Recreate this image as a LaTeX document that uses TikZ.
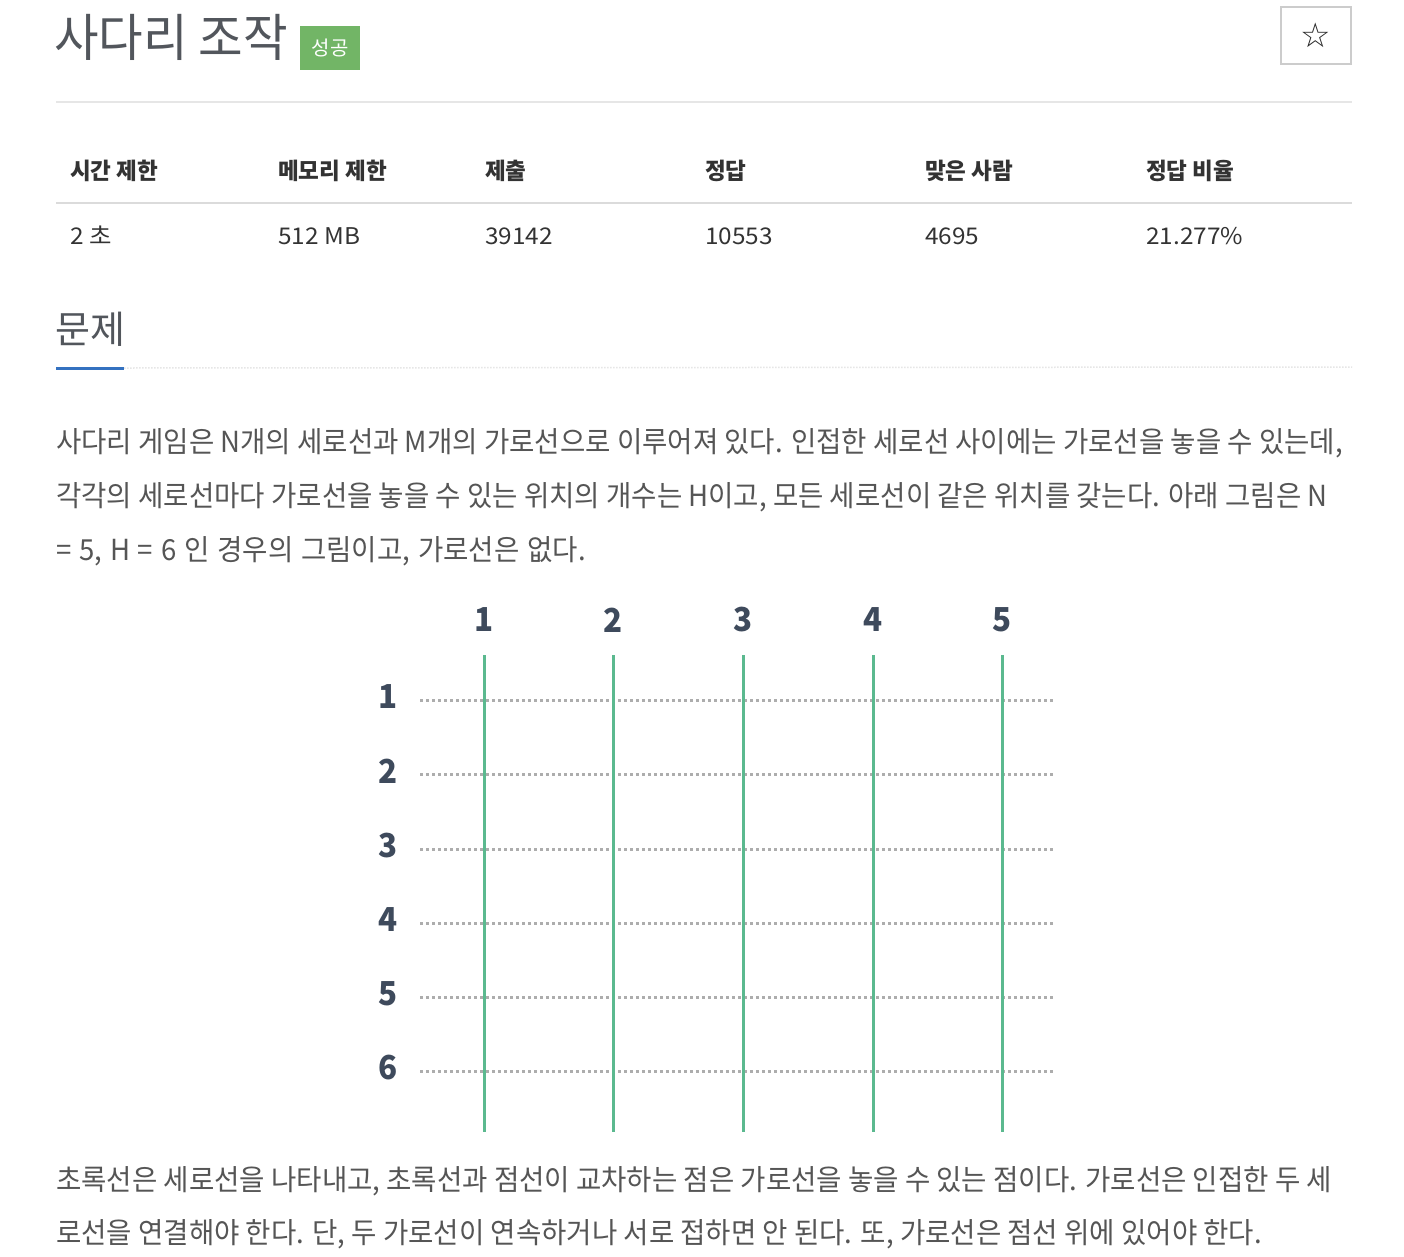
\documentclass[tikz,border=0pt]{standalone}
\usepackage{fontspec}
\setmainfont{Noto Sans CJK KR}[FakeStretch=0.95]
\newfontfamily\krT{Noto Sans CJK KR}[FakeStretch=0.95]
\newfontfamily\krH{Noto Sans CJK KR}[FakeStretch=0.98]
\newfontfamily\krD{Noto Sans CJK KR}[FakeStretch=1.06]
\newfontfamily\krS{Noto Sans CJK KR}[FakeStretch=1.0]
\newfontfamily\symf{DejaVu Sans}
\definecolor{titlec}{HTML}{52565C}
\definecolor{bodyc}{HTML}{555555}
\definecolor{headc}{HTML}{333333}
\definecolor{badgec}{HTML}{72B566}
\definecolor{vlinec}{HTML}{5BB98F}
\definecolor{dotc}{HTML}{ADADAD}
\definecolor{labc}{HTML}{3E4A5C}
\definecolor{blueu}{HTML}{3471C0}
\definecolor{rulec}{HTML}{E6E6E6}
\tikzset{
  txt/.style={inner sep=0pt, anchor=base west},
  body/.style={txt, text=bodyc, font=\fontsize{29}{35}\selectfont},
  head/.style={txt, text=headc, font=\krH\fontsize{23}{28}\selectfont\bfseries},
  cell/.style={txt, text=headc, font=\krD\fontsize{23}{28}\selectfont},
  lab/.style={inner sep=0pt, anchor=center, text=labc, font=\fontsize{33}{40}\selectfont\bfseries},
  vln/.style={draw=vlinec, line width=3pt},
  dln/.style={draw=dotc, line width=3pt, dash pattern=on 3pt off 3pt},
}
\begin{document}
\begin{tikzpicture}[x=1pt,y=-1pt]
\useasboundingbox[fill=white] (0,0) rectangle (1404,1256);
% title
\node[txt, text=titlec, font=\krT\fontsize{51}{60}\selectfont] (title) at (54,56) {사다리 조작};
\node[fill=badgec, minimum width=60pt, minimum height=44pt, inner sep=0pt, text=white, font=\krS\fontsize{20}{24}\selectfont] (badge) at (330,48) {성공};
\node[draw=black!20, line width=2pt, minimum width=70pt, minimum height=57pt, inner sep=0pt, font=\symf\fontsize{34}{40}\selectfont, text=black!85] (star) at (1316,35.5) {☆};
\coordinate (r1a) at (56,102); \coordinate (r1b) at (1352,102);
\draw[rulec, line width=2pt] (r1a) -- (r1b);
% table
\node[head] (h1) at (70,179.5) {시간 제한};
\node[head] (h2) at (278,179.5) {메모리 제한};
\node[head] (h3) at (485,179.5) {제출};
\node[head] (h4) at (705,179.5) {정답};
\node[head] (h5) at (925,179.5) {맞은 사람};
\node[head] (h6) at (1146,179.5) {정답 비율};
\coordinate (r2a) at (56,203); \coordinate (r2b) at (1352,203);
\draw[black!14, line width=2pt] (r2a) -- (r2b);
\node[cell] (c1) at (70,244) {2 초};
\node[cell] (c2) at (278,244) {512 MB};
\node[cell] (c3) at (485,244) {39142};
\node[cell] (c4) at (705,244) {10553};
\node[cell] (c5) at (925,244) {4695};
\node[cell] (c6) at (1146,244) {21.277\%};
% section heading
\node[txt, text=titlec, font=\krS\fontsize{38}{46}\selectfont] (sec) at (55,343) {문제};
\coordinate (u1) at (56,368); \coordinate (u2) at (124,368); \coordinate (u3) at (1352,367);
\draw[rulec, line width=1.5pt, dash pattern=on 1.5pt off 1.5pt] (u2) -- (u3);
\draw[blueu, line width=3pt] (u1) -- (u2);
% paragraph
\node[body] (p1) at (56,452) {사다리 게임은 N개의 세로선과 M개의 가로선으로 이루어져 있다. 인접한 세로선 사이에는 가로선을 놓을 수 있는데,};
\node[body] (p2) at (56,506) {각각의 세로선마다 가로선을 놓을 수 있는 위치의 개수는 H이고, 모든 세로선이 같은 위치를 갖는다. 아래 그림은 N};
\node[body] (p3) at (56,560) {\spaceskip=0.27em = 5, H = 6 인 경우의 그림이고, 가로선은 없다.};
% ladder
\foreach \i/\y in {1/700,2/774.5,3/849,4/923,5/997,6/1071}{
  \node[lab] (row\i) at (388,\y-3) {\i};
  \coordinate (dl\i) at (420,\y);
  \coordinate (dr\i) at (1054,\y);
  \draw[dln] (dl\i) -- (dr\i);
}
\foreach \i/\x in {1/484.5,2/613.5,3/743.5,4/873,5/1002}{
  \node[lab] (col\i) at (\x,620) {\i};
  \coordinate (vt\i) at (\x,655);
  \coordinate (vb\i) at (\x,1132);
  \draw[vln] (vt\i) -- (vb\i);
}
% bottom paragraph
\node[body] (q1) at (56,1190) {초록선은 세로선을 나타내고, 초록선과 점선이 교차하는 점은 가로선을 놓을 수 있는 점이다. 가로선은 인접한 두 세};
\node[body] (q2) at (56,1243) {로선을 연결해야 한다. 단, 두 가로선이 연속하거나 서로 접하면 안 된다. 또, 가로선은 점선 위에 있어야 한다.};
\end{tikzpicture}
\end{document}
